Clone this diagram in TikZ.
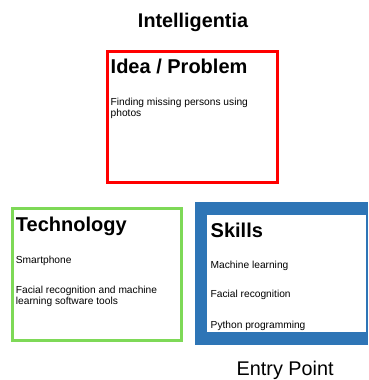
\documentclass[tikz,border=0pt]{standalone}
\usepackage{fontspec}
\setmainfont{Liberation Sans}
\definecolor{boxred}{RGB}{255,0,0}
\definecolor{boxgreen}{RGB}{126,217,87}
\definecolor{boxblue}{RGB}{46,117,182}
\tikzset{
  head/.style={anchor=base west,inner sep=0pt,font=\fontsize{20}{24}\selectfont\bfseries},
  body/.style={anchor=base west,inner sep=0pt,font=\fontsize{10.2}{12}\selectfont},
  title/.style={anchor=base,inner sep=0pt,font=\fontsize{19.8}{24}\selectfont\bfseries},
}
\begin{document}
\begin{tikzpicture}[x=1pt,y=-1pt]
\useasboundingbox[fill=white] (0,0) rectangle (368,380);
% title
\node[title] (t) at (193,27.5) {Intelligentia};
% idea / problem box
\draw[boxred,line width=3pt] (107.5,51) rectangle (277,182);
\node[head] (ip) at (110.5,73.3) {Idea / Problem};
\node[body] (ip1) at (110.5,105) {Finding missing persons using};
\node[body] (ip2) at (110.5,116) {photos};
% technology box
\draw[boxgreen,line width=3pt] (12.3,208.7) rectangle (181.5,340.3);
\node[head] (te) at (15.7,231.7) {Technology};
\node[body] (te1) at (15.7,263.3) {Smartphone};
\node[body] (te2) at (15.7,293.3) {Facial recognition and machine};
\node[body] (te3) at (15.7,304) {learning software tools};
% skills box
\fill[boxblue] (195,202) rectangle (368,345);
\fill[white] (207,215) rectangle (366,332);
\node[head] (sk) at (210.5,237.7) {Skills};
\node[body] (sk1) at (210.5,268.3) {Machine learning};
\node[body] (sk2) at (210.5,297.7) {Facial recognition};
\node[body] (sk3) at (210.5,328.3) {Python programming};
% entry point
\node[anchor=base west,inner sep=0pt,font=\fontsize{19.8}{24}\selectfont] (ep) at (236.5,375) {Entry Point};
\end{tikzpicture}
\end{document}
